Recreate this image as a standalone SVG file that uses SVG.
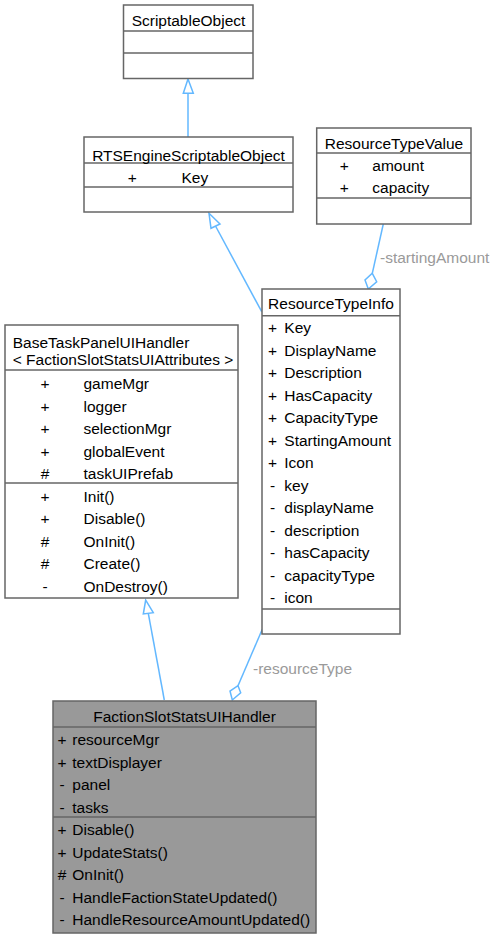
<svg xmlns="http://www.w3.org/2000/svg" width="495" height="939" viewBox="0 0 495 939">
<style>
text{font-family:"Liberation Sans",Arial,sans-serif;font-size:15.5px;fill:#000}
.box{fill:#fff;stroke:#666;stroke-width:1.5}
.hl{fill:#999;stroke:#666;stroke-width:1.5}
.div{stroke:#666;stroke-width:1.5}
.m{text-anchor:middle}
.e{fill:none;stroke:#63b8ff;stroke-width:1.5}
.ah{fill:#fff;stroke:#63b8ff;stroke-width:1.5}
.lbl{fill:#9a9a9a}
</style>
<rect width="495" height="939" fill="#fff"/>
<g id="connectors">
<line class="e" x1="188" y1="137" x2="188" y2="93"/>
<polygon class="ah" points="188,79 183.3,93.3 193.3,93.3"/>
<line class="e" x1="261.7" y1="311.7" x2="215.5" y2="226"/>
<polygon class="ah" points="209,213.3 211,228.3 220,224"/>
<line class="e" x1="164.3" y1="700" x2="148.3" y2="613.3"/>
<polygon class="ah" points="145.7,600 143.3,614 153.3,612.7"/>
<line class="e" x1="383.3" y1="224" x2="372.3" y2="273.3"/>
<polygon class="ah" points="372.3,273.3 376.7,281.7 368.3,289 365,280"/>
<text class="lbl" x="380" y="263">-startingAmount</text>
<line class="e" x1="262.3" y1="629.3" x2="238" y2="685.7"/>
<polygon class="ah" points="238,685.7 240.7,692.7 232.3,700 230,691"/>
<text class="lbl" x="253" y="674">-resourceType</text>
</g>
<g id="ScriptableObject">
<rect class="box" x="123.5" y="5" width="129.5" height="73.5"/>
<line class="div" x1="123.5" y1="31" x2="253" y2="31"/>
<line class="div" x1="123.5" y1="53" x2="253" y2="53"/>
<text class="m" x="188.5" y="26">ScriptableObject</text>
</g>
<g id="RTSEngineScriptableObject">
<rect class="box" x="84" y="137" width="209" height="75"/>
<line class="div" x1="84" y1="163" x2="293" y2="163"/>
<line class="div" x1="84" y1="187" x2="293" y2="187"/>
<text class="m" x="188.5" y="160.5">RTSEngineScriptableObject</text>
<text class="m" x="132.3" y="182.5">+</text>
<text x="181.5" y="182.5">Key</text>
</g>
<g id="ResourceTypeValue">
<rect class="box" x="316.7" y="128" width="154.3" height="96"/>
<line class="div" x1="316.7" y1="153" x2="471" y2="153"/>
<line class="div" x1="316.7" y1="198" x2="471" y2="198"/>
<text class="m" x="394" y="149">ResourceTypeValue</text>
<text class="m" x="344.3" y="170.5">+</text>
<text x="372.3" y="170.5">amount</text>
<text class="m" x="344.3" y="192.5">+</text>
<text x="372.3" y="192.5">capacity</text>
</g>
<g id="ResourceTypeInfo">
<rect class="box" x="262" y="289" width="138" height="345"/>
<line class="div" x1="262" y1="315.7" x2="400" y2="315.7"/>
<line class="div" x1="262" y1="609" x2="400" y2="609"/>
<text class="m" x="331" y="309">ResourceTypeInfo</text>
<text class="m" x="272.5" y="333.3">+</text>
<text class="m" x="272.5" y="355.8">+</text>
<text class="m" x="272.5" y="378.3">+</text>
<text class="m" x="272.5" y="400.8">+</text>
<text class="m" x="272.5" y="423.3">+</text>
<text class="m" x="272.5" y="445.8">+</text>
<text class="m" x="272.5" y="468.3">+</text>
<text class="m" x="272.5" y="490.8">-</text>
<text class="m" x="272.5" y="513.3">-</text>
<text class="m" x="272.5" y="535.8">-</text>
<text class="m" x="272.5" y="558.3">-</text>
<text class="m" x="272.5" y="580.8">-</text>
<text class="m" x="272.5" y="603.3">-</text>
<text x="284.3" y="333.3">Key</text>
<text x="284.3" y="355.8">DisplayName</text>
<text x="284.3" y="378.3">Description</text>
<text x="284.3" y="400.8">HasCapacity</text>
<text x="284.3" y="423.3">CapacityType</text>
<text x="284.3" y="445.8">StartingAmount</text>
<text x="284.3" y="468.3">Icon</text>
<text x="284.3" y="490.8">key</text>
<text x="284.3" y="513.3">displayName</text>
<text x="284.3" y="535.8">description</text>
<text x="284.3" y="558.3">hasCapacity</text>
<text x="284.3" y="580.8">capacityType</text>
<text x="284.3" y="603.3">icon</text>
</g>
<g id="BaseTaskPanelUIHandler">
<rect class="box" x="5" y="325" width="233" height="273"/>
<line class="div" x1="5" y1="370" x2="238" y2="370"/>
<line class="div" x1="5" y1="483" x2="238" y2="483"/>
<text x="12.7" y="348">BaseTaskPanelUIHandler</text>
<text x="12.7" y="365">&lt; FactionSlotStatsUIAttributes &gt;</text>
<text class="m" x="45" y="389">+</text>
<text class="m" x="45" y="411.5">+</text>
<text class="m" x="45" y="434">+</text>
<text class="m" x="45" y="456.5">+</text>
<text class="m" x="45" y="479">#</text>
<text x="83.5" y="389">gameMgr</text>
<text x="83.5" y="411.5">logger</text>
<text x="83.5" y="434">selectionMgr</text>
<text x="83.5" y="456.5">globalEvent</text>
<text x="83.5" y="479">taskUIPrefab</text>
<text class="m" x="45" y="501.5">+</text>
<text class="m" x="45" y="524">+</text>
<text class="m" x="45" y="546.5">#</text>
<text class="m" x="45" y="569">#</text>
<text class="m" x="45" y="591.5">-</text>
<text x="83.5" y="501.5">Init()</text>
<text x="83.5" y="524">Disable()</text>
<text x="83.5" y="546.5">OnInit()</text>
<text x="83.5" y="569">Create()</text>
<text x="83.5" y="591.5">OnDestroy()</text>
</g>
<g id="FactionSlotStatsUIHandler">
<rect class="hl" x="53" y="701" width="263" height="232"/>
<line class="div" x1="53" y1="727" x2="316" y2="727"/>
<line class="div" x1="53" y1="817" x2="316" y2="817"/>
<text class="m" x="184.5" y="721.7">FactionSlotStatsUIHandler</text>
<text class="m" x="62" y="745">+</text>
<text class="m" x="62" y="767.5">+</text>
<text class="m" x="62" y="790">-</text>
<text class="m" x="62" y="812.5">-</text>
<text x="72.3" y="745">resourceMgr</text>
<text x="72.3" y="767.5">textDisplayer</text>
<text x="72.3" y="790">panel</text>
<text x="72.3" y="812.5">tasks</text>
<text class="m" x="62" y="835">+</text>
<text class="m" x="62" y="857.5">+</text>
<text class="m" x="62" y="880">#</text>
<text class="m" x="62" y="902.5">-</text>
<text class="m" x="62" y="925">-</text>
<text x="72.3" y="835">Disable()</text>
<text x="72.3" y="857.5">UpdateStats()</text>
<text x="72.3" y="880">OnInit()</text>
<text x="72.3" y="902.5">HandleFactionStateUpdated()</text>
<text x="72.3" y="925">HandleResourceAmountUpdated()</text>
</g>
</svg>
